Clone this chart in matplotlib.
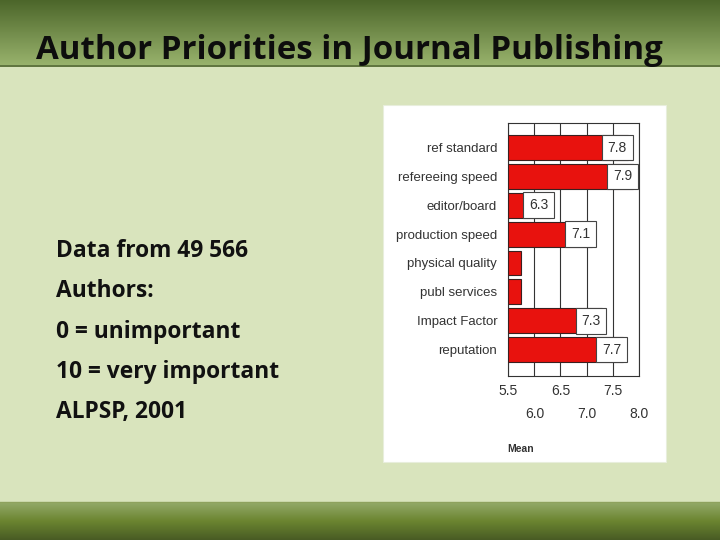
import numpy as np
import matplotlib.pyplot as plt
from matplotlib.patches import Rectangle

categories = ['ref standard', 'refereeing speed', 'editor/board', 'production speed',
              'physical quality', 'publ services', 'Impact Factor', 'reputation']
means = [7.8, 7.9, 6.3, 7.1, 5.75, 5.75, 7.3, 7.7]
value_labels = ['7.8', '7.9', '6.3', '7.1', None, None, '7.3', '7.7']
ticks_upper = [5.5, 6.5, 7.5]
ticks_lower = [6.0, 7.0, 8.0]
notes = ['Data from 49 566', 'Authors:', '0 = unimportant', '10 = very important', 'ALPSP, 2001']

W, H = 720, 540
fig = plt.figure(figsize=(7.2, 5.4), dpi=100)

# slide background
bg = fig.add_axes([0, 0, 1, 1])
bg.set_xlim(0, W)
bg.set_ylim(H, 0)
bg.axis('off')
bg.add_patch(Rectangle((0, 0), W, H, color='#d9e4bd', zorder=0))

# header gradient
top = np.linspace(0, 1, 100)[:, None]
c1 = np.array([0x4c, 0x66, 0x2a]) / 255
c2 = np.array([0x98, 0xb2, 0x6c]) / 255
grad = c1 + (c2 - c1) * top[..., None]
bg.imshow(np.repeat(grad, 2, axis=1), extent=[0, W, 65, 0], aspect='auto', zorder=1)
bg.plot([0, W], [65.5, 65.5], color='#4a6128', lw=1.2, zorder=2)

# footer gradient
c3 = np.array([0x94, 0xaa, 0x6a]) / 255
c4 = np.array([0x6b, 0x85, 0x30]) / 255
c5 = np.array([0x48, 0x5b, 0x24]) / 255
t = np.linspace(0, 1, 100)
foot = np.where(t[:, None] < 0.5, c3 + (c4 - c3) * (t[:, None] / 0.5),
                c4 + (c5 - c4) * ((t[:, None] - 0.5) / 0.5))
bg.imshow(np.repeat(foot[:, None, :], 2, axis=1), extent=[0, W, H, 502], aspect='auto', zorder=1)
bg.plot([0, W], [502, 502], color='#8ea25e', lw=1, zorder=2)

bg.text(36, 59, 'Author Priorities in Journal Publishing', fontsize=23.8, fontweight='bold',
        family=['Open Sans', 'DejaVu Sans'], color='#0d0d0d', va='baseline', zorder=3)

for i, line in enumerate(notes):
    bg.text(56, 251 + i * 40.3, line, fontsize=16.4, fontweight='bold',
            family=['Open Sans', 'DejaVu Sans'], color='#111111', va='center', zorder=3)

# white chart panel
bg.add_patch(Rectangle((383, 105), 283, 357, facecolor='white', edgecolor='#e8eedc', lw=0.8, zorder=2))

# chart axes
x0, x1, y0, y1 = 508.3, 638.7, 123, 375.5
ax = fig.add_axes([x0 / W, 1 - y1 / H, (x1 - x0) / W, (y1 - y0) / H])
ax.set_facecolor('white')
narrow = ['Liberation Sans Narrow', 'Liberation Sans', 'DejaVu Sans']
ypos = np.arange(len(categories))
ax.barh(ypos, [m - 5.5 for m in means], left=5.5, height=0.86, color='#e8120e',
        edgecolor='#3a2020', lw=0.8, zorder=3)
for y, m, lab in zip(ypos, means, value_labels):
    if lab is None:
        continue
    ax.text(m - 0.03, y, lab, ha='right', va='center', fontsize=10, family=narrow,
            color='#333333', zorder=5,
            bbox=dict(boxstyle='square,pad=0.42', facecolor='white', edgecolor='#444444', lw=0.8))

ax.set_xlim(5.5, 8.0)
ax.set_ylim(len(categories) - 0.1, -0.85)
ax.set_yticks(ypos)
ax.set_yticklabels(categories, family=narrow, fontsize=9.5, color='#333333')
ax.tick_params(axis='y', length=0, pad=8)
ax.set_xticks(ticks_upper)
ax.set_xticks(ticks_lower, minor=True)
ax.set_xticklabels([f'{v:.1f}' for v in ticks_upper], family=narrow, fontsize=10, color='#333333')
ax.set_xticklabels([f'{v:.1f}' for v in ticks_lower], minor=True, family=narrow, fontsize=10, color='#333333')
ax.tick_params(axis='x', which='major', length=0, pad=6)
ax.tick_params(axis='x', which='minor', length=0, pad=23)
ax.grid(True, axis='x', which='both', color='#333333', lw=0.8, zorder=1)
for s in ax.spines.values():
    s.set_color('#333333')
    s.set_linewidth(0.8)

bg.text(507, 449, 'Mean', fontsize=7.5, fontweight='bold', family=['Liberation Sans', 'DejaVu Sans'],
        color='#333333', va='center', zorder=3)

fig.savefig('out.png', dpi=100)
